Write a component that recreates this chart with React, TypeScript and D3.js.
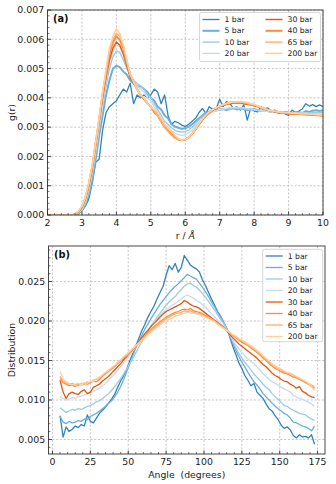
import React from 'react';
import * as d3 from 'd3';

// ---------- data ----------
const labels = ['1 bar', '5 bar', '10 bar', '20 bar', '30 bar', '40 bar', '65 bar', '200 bar'];
const colors = ['#3182bd', '#6baed6', '#9ecae1', '#c6dbef', '#e6550d', '#fd8d3c', '#fdae6b', '#fdd0a2'];
const widthsA = [1.3, 2.0, 1.4, 1.4, 1.4, 2.0, 1.4, 1.6];
const widthsB = [1.3, 1.3, 1.3, 1.3, 1.3, 1.3, 1.3, 1.3];

// r grid: 2.0 .. 10.0 step 0.1
const rGrid = d3.range(0, 81).map((i) => 2 + i * 0.1);
// angle grid: 5 .. 173 step 2
const angleGrid = d3.range(0, 85).map((i) => 5 + 2 * i);

const g1 = [0, 0, 0, 0, 0, 0, 0, 0, 0, 0.00005, 0.00015, 0.0003, 0.00055, 0.0011, 0.0018, 0.0019, 0.0029, 0.0035, 0.0037, 0.0038,
  0.0039, 0.0041, 0.0043, 0.0042, 0.0045, 0.0038, 0.0041, 0.0040, 0.0041, 0.0040,
  0.0041, 0.0043, 0.0042, 0.0038, 0.0041, 0.0034, 0.0031, 0.0032, 0.00315, 0.00307,
  0.00302, 0.0031, 0.0032, 0.0033, 0.0035, 0.00364, 0.00347, 0.0037, 0.0036, 0.00364,
  0.00395, 0.0037, 0.00387, 0.0038, 0.00364, 0.0037, 0.00358, 0.00376, 0.00324, 0.00364,
  0.00355, 0.00352, 0.0037, 0.00362, 0.00366, 0.00353, 0.00358, 0.00347, 0.00352, 0.00345,
  0.0034, 0.00358, 0.0035, 0.00355, 0.00362, 0.0038, 0.00372, 0.00377, 0.0037, 0.00376,
  0.0037];
const g5 = [0, 0, 0, 0, 0, 0, 0, 0, 0, 0.00005, 0.00015, 0.00035, 0.0007, 0.0012, 0.0019, 0.0027, 0.0034, 0.0041, 0.0046, 0.0050,
  0.0051, 0.00505, 0.0049, 0.0048, 0.0046, 0.0045, 0.0044, 0.0044, 0.0043, 0.0042,
  0.0040, 0.0039, 0.0037, 0.0036, 0.0034, 0.0033, 0.0031, 0.00302, 0.00298, 0.00294,
  0.00296, 0.00302, 0.0031, 0.0032, 0.0033, 0.0034, 0.0035, 0.00352, 0.00356, 0.00358,
  0.0036, 0.00362, 0.00358, 0.00362, 0.00365, 0.0036, 0.00364, 0.00362, 0.00358, 0.0036,
  0.00362, 0.00358, 0.00356, 0.0036, 0.00355, 0.00352, 0.00356, 0.00352, 0.00348, 0.00352,
  0.0035, 0.00346, 0.0035, 0.00352, 0.00348, 0.00355, 0.00352, 0.00356, 0.00358, 0.00355,
  0.00358];
const g10 = [0, 0, 0, 0, 0, 0, 0, 0, 0, 0.00007, 0.00018, 0.0004, 0.0008, 0.0014, 0.0021, 0.0029, 0.0037, 0.0044, 0.0050, 0.0054,
  0.0056, 0.00555, 0.0053, 0.0050, 0.0048, 0.0046, 0.0045, 0.0044, 0.0043, 0.0041,
  0.0040, 0.0038, 0.0036, 0.0034, 0.0032, 0.0031, 0.00298, 0.0029, 0.00285, 0.00283,
  0.00285, 0.0029, 0.003, 0.00312, 0.00325, 0.00335, 0.00342, 0.00348, 0.00352, 0.00356,
  0.00358, 0.0036, 0.00362, 0.00363, 0.00362, 0.00364, 0.00362, 0.00363, 0.0036, 0.00361,
  0.00358, 0.00357, 0.00356, 0.00355, 0.00354, 0.00352, 0.00353, 0.0035, 0.00351, 0.0035,
  0.00349, 0.0035, 0.00349, 0.00348, 0.0035, 0.00349, 0.00348, 0.0035, 0.00349, 0.0035,
  0.0035];
const g20 = [0, 0, 0, 0, 0, 0, 0, 0, 0, 0.00008, 0.0002, 0.00045, 0.0009, 0.0015, 0.0022, 0.0030, 0.0038, 0.0046, 0.0052, 0.0056,
  0.0058, 0.00575, 0.0055, 0.0051, 0.0048, 0.0046, 0.0044, 0.0043, 0.0042, 0.0040,
  0.0039, 0.0037, 0.0035, 0.0033, 0.0031, 0.003, 0.00288, 0.0028, 0.00274, 0.00272,
  0.00274, 0.0028, 0.0029, 0.00303, 0.00316, 0.00328, 0.00338, 0.00346, 0.00352, 0.00356,
  0.0036, 0.00363, 0.00365, 0.00367, 0.00367, 0.00368, 0.00367, 0.00366, 0.00364, 0.00362,
  0.0036, 0.00358, 0.00357, 0.00355, 0.00354, 0.00352, 0.00351, 0.0035, 0.00349, 0.00348,
  0.00348, 0.00347, 0.00347, 0.00346, 0.00346, 0.00346, 0.00345, 0.00345, 0.00346, 0.00345,
  0.00345];
const g30 = [0, 0, 0, 0, 0, 0, 0, 0, 0.00002, 0.0001, 0.00025, 0.00055, 0.001, 0.0016, 0.0024, 0.0032, 0.0040, 0.0047, 0.0053, 0.0057,
  0.0059, 0.0058, 0.0055, 0.0051, 0.0047, 0.0045, 0.0043, 0.0041, 0.00395, 0.0038,
  0.0037, 0.0035, 0.0034, 0.0032, 0.0030, 0.00288, 0.00276, 0.00266, 0.00258, 0.00255,
  0.00257, 0.00264, 0.00276, 0.00292, 0.00308, 0.00324, 0.00338, 0.00349, 0.00358, 0.00364,
  0.00369, 0.00374, 0.00378, 0.0038, 0.00382, 0.00383, 0.00382, 0.0038, 0.00378, 0.00376,
  0.00373, 0.0037, 0.00366, 0.00362, 0.00358, 0.00355, 0.00352, 0.0035, 0.00348, 0.00347,
  0.00346, 0.00345, 0.00345, 0.00344, 0.00344, 0.00343, 0.00342, 0.00341, 0.00341, 0.0034,
  0.00339];
const g40 = [0, 0, 0, 0, 0, 0, 0, 0, 0.00003, 0.00011, 0.00028, 0.00058, 0.00105, 0.00165, 0.00245, 0.00325, 0.0041, 0.0048, 0.0055, 0.0059,
  0.0061, 0.00598, 0.0057, 0.0052, 0.0048, 0.00455, 0.0043, 0.0041, 0.00398, 0.00382,
  0.0037, 0.00355, 0.0034, 0.0032, 0.00302, 0.00288, 0.00275, 0.00265, 0.00258, 0.00255,
  0.00258, 0.00265, 0.00277, 0.00293, 0.0031, 0.00326, 0.00341, 0.00352, 0.0036, 0.00366,
  0.00371, 0.00376, 0.0038, 0.00383, 0.00385, 0.00386, 0.00385, 0.00383, 0.00381, 0.00378,
  0.00375, 0.00371, 0.00367, 0.00363, 0.00359, 0.00356, 0.00353, 0.00351, 0.00349, 0.00348,
  0.00347, 0.00346, 0.00345, 0.00345, 0.00344, 0.00343, 0.00343, 0.00342, 0.00341, 0.00341,
  0.0034];
const g65 = [0, 0, 0, 0, 0, 0, 0, 0, 0.00003, 0.00012, 0.0003, 0.0006, 0.0011, 0.0017, 0.0025, 0.0033, 0.0042, 0.0049, 0.0056, 0.0060,
  0.0062, 0.0061, 0.0058, 0.0053, 0.0048, 0.00455, 0.0043, 0.0041, 0.00398, 0.0038,
  0.00368, 0.00355, 0.0034, 0.0032, 0.003, 0.00286, 0.00273, 0.00263, 0.00257, 0.00255,
  0.00258, 0.00265, 0.00277, 0.00294, 0.00311, 0.00327, 0.00341, 0.00352, 0.0036, 0.00367,
  0.00372, 0.00377, 0.00381, 0.00384, 0.00386, 0.00387, 0.00386, 0.00384, 0.00381, 0.00378,
  0.00376, 0.00372, 0.00367, 0.00363, 0.00359, 0.00356, 0.00354, 0.00352, 0.0035, 0.00349,
  0.00348, 0.00347, 0.00346, 0.00346, 0.00345, 0.00344, 0.00343, 0.00343, 0.00342, 0.00341,
  0.0034];
const g200 = [0, 0, 0, 0, 0, 0, 0, 0, 0.00004, 0.00014, 0.0003, 0.0006, 0.0011, 0.0017, 0.0025, 0.0033, 0.0042, 0.0050, 0.0057, 0.0061,
  0.00635, 0.0062, 0.0058, 0.0053, 0.0048, 0.00455, 0.0043, 0.0041, 0.004, 0.0038,
  0.0037, 0.0036, 0.0035, 0.0033, 0.0031, 0.003, 0.00285, 0.00272, 0.00262, 0.00256,
  0.00258, 0.00265, 0.00278, 0.00295, 0.00312, 0.00328, 0.00342, 0.00352, 0.0036, 0.00367,
  0.00372, 0.00377, 0.00381, 0.00384, 0.00386, 0.00387, 0.00387, 0.00386, 0.00384, 0.00381,
  0.00377, 0.00373, 0.00368, 0.00363, 0.00359, 0.00356, 0.00354, 0.00352, 0.00351, 0.0035,
  0.00349, 0.00348, 0.00348, 0.00347, 0.00347, 0.00346, 0.00345, 0.00344, 0.00343, 0.00342,
  0.00341];

const d1 = [0.0080, 0.0053, 0.0066, 0.0060, 0.0063, 0.0067, 0.0065, 0.0069, 0.0067, 0.0081,
  0.0073, 0.0071, 0.0077, 0.0083, 0.0087, 0.0091, 0.0096, 0.0101, 0.0107, 0.0116,
  0.0124, 0.0131, 0.0139, 0.0149, 0.0159, 0.0168, 0.0178, 0.0188, 0.0196, 0.0205,
  0.0212, 0.0219, 0.0228, 0.0236, 0.0244, 0.0258, 0.0270, 0.0265, 0.0273, 0.0262,
  0.0268, 0.0283, 0.0277, 0.0271, 0.0268, 0.0266, 0.0262, 0.0252, 0.0245, 0.0236,
  0.0228, 0.0220, 0.0212, 0.0206, 0.0198, 0.0191, 0.0180, 0.0168, 0.0158, 0.0147,
  0.0140, 0.0131, 0.0125, 0.0118, 0.0121, 0.0110, 0.0106, 0.0102, 0.0095, 0.0089,
  0.0086, 0.0080, 0.0075, 0.0068, 0.0064, 0.0066, 0.0062, 0.0055, 0.0052, 0.0056,
  0.0053, 0.0054, 0.0052, 0.0056, 0.0044];
const d5 = [0.0079, 0.0072, 0.0070, 0.0073, 0.0071, 0.0072, 0.0074, 0.0073, 0.0076, 0.0075,
  0.0079, 0.0081, 0.0083, 0.0086, 0.0089, 0.0092, 0.0096, 0.0099, 0.0104, 0.0110,
  0.0117, 0.0126, 0.0136, 0.0146, 0.0156, 0.0166, 0.0174, 0.0182, 0.0190, 0.0196,
  0.0203, 0.0209, 0.0215, 0.0221, 0.0226, 0.0231, 0.0236, 0.0240, 0.0244, 0.0247,
  0.0251, 0.0255, 0.0259, 0.0257, 0.0255, 0.0253, 0.0248, 0.0243, 0.0237, 0.0231,
  0.0224, 0.0218, 0.0211, 0.0205, 0.0198, 0.0190, 0.0182, 0.0172, 0.0163, 0.0155,
  0.0148, 0.0142, 0.0135, 0.0129, 0.0123, 0.0119, 0.0114, 0.0108, 0.0104, 0.0100,
  0.0096, 0.0092, 0.0089, 0.0086, 0.0083, 0.0081, 0.0077, 0.0072, 0.0071, 0.0069,
  0.0067, 0.0066, 0.0064, 0.0061, 0.0067];
const d10 = [0.0090, 0.0087, 0.0084, 0.0086, 0.0088, 0.0087, 0.0089, 0.0088, 0.0090, 0.0092,
  0.0093, 0.0095, 0.0098, 0.0099, 0.0102, 0.0105, 0.0108, 0.0112, 0.0117, 0.0122,
  0.0127, 0.0133, 0.0139, 0.0146, 0.0153, 0.0160, 0.0167, 0.0174, 0.0180, 0.0187,
  0.0193, 0.0199, 0.0205, 0.0210, 0.0215, 0.0220, 0.0224, 0.0228, 0.0231, 0.0236,
  0.0240, 0.0244, 0.0247, 0.0248, 0.0245, 0.0243, 0.0239, 0.0235, 0.0230, 0.0225,
  0.0219, 0.0214, 0.0208, 0.0202, 0.0197, 0.0190, 0.0183, 0.0175, 0.0166, 0.0159,
  0.0153, 0.0148, 0.0143, 0.0138, 0.0133, 0.0129, 0.0125, 0.0120, 0.0116, 0.0113,
  0.0108, 0.0104, 0.0101, 0.0097, 0.0093, 0.0092, 0.0089, 0.0087, 0.0085, 0.0083,
  0.0082, 0.0081, 0.0078, 0.0076, 0.0074];
const d20 = [0.0104, 0.0102, 0.0100, 0.0101, 0.0103, 0.0102, 0.0104, 0.0105, 0.0106, 0.0108,
  0.0109, 0.0111, 0.0113, 0.0115, 0.0118, 0.0121, 0.0125, 0.0129, 0.0133, 0.0138,
  0.0142, 0.0147, 0.0152, 0.0157, 0.0162, 0.0168, 0.0173, 0.0178, 0.0184, 0.0189,
  0.0194, 0.0199, 0.0203, 0.0207, 0.0211, 0.0214, 0.0217, 0.0220, 0.0222, 0.0225,
  0.0228, 0.0231, 0.0233, 0.0231, 0.0229, 0.0226, 0.0224, 0.0221, 0.0218, 0.0213,
  0.0209, 0.0205, 0.0201, 0.0197, 0.0193, 0.0189, 0.0183, 0.0176, 0.0170, 0.0165,
  0.0160, 0.0156, 0.0152, 0.0149, 0.0146, 0.0142, 0.0138, 0.0133, 0.0130, 0.0126,
  0.0123, 0.0121, 0.0119, 0.0116, 0.0114, 0.0112, 0.0110, 0.0106, 0.0104, 0.0102,
  0.0101, 0.0099, 0.0097, 0.0095, 0.0092];
const d30 = [0.0125, 0.0110, 0.0102, 0.0108, 0.0110, 0.0108, 0.0107, 0.0111, 0.0113, 0.0108,
  0.0110, 0.0116, 0.0118, 0.0120, 0.0124, 0.0127, 0.0130, 0.0134, 0.0138, 0.0142,
  0.0146, 0.0151, 0.0155, 0.0160, 0.0164, 0.0169, 0.0174, 0.0179, 0.0184, 0.0188,
  0.0193, 0.0197, 0.0201, 0.0205, 0.0209, 0.0212, 0.0214, 0.0216, 0.0218, 0.0220,
  0.0222, 0.0226, 0.0224, 0.0221, 0.0219, 0.0218, 0.0216, 0.0213, 0.0210, 0.0207,
  0.0204, 0.0201, 0.0198, 0.0195, 0.0192, 0.0188, 0.0183, 0.0179, 0.0175, 0.0171,
  0.0168, 0.0165, 0.0162, 0.0159, 0.0156, 0.0153, 0.0149, 0.0145, 0.0142, 0.0138,
  0.0134, 0.0131, 0.0129, 0.0126, 0.0124, 0.0123, 0.0120, 0.0118, 0.0115, 0.0117,
  0.0111, 0.0109, 0.0106, 0.0104, 0.0103];
const d40 = [0.0127, 0.0122, 0.0120, 0.0118, 0.0119, 0.0117, 0.0120, 0.0119, 0.0121, 0.0120,
  0.0122, 0.0124, 0.0123, 0.0126, 0.0130, 0.0133, 0.0136, 0.0139, 0.0142, 0.0146,
  0.0149, 0.0153, 0.0156, 0.0160, 0.0164, 0.0168, 0.0173, 0.0177, 0.0181, 0.0185,
  0.0189, 0.0193, 0.0196, 0.0199, 0.0202, 0.0205, 0.0207, 0.0209, 0.0211, 0.0212,
  0.0214, 0.0215, 0.0214, 0.0216, 0.0213, 0.0212, 0.0211, 0.0209, 0.0207, 0.0205,
  0.0203, 0.0200, 0.0197, 0.0195, 0.0192, 0.0189, 0.0185, 0.0182, 0.0179, 0.0176,
  0.0173, 0.0171, 0.0169, 0.0166, 0.0163, 0.0160, 0.0157, 0.0153, 0.0150, 0.0146,
  0.0143, 0.0140, 0.0138, 0.0136, 0.0134, 0.0133, 0.0131, 0.0129, 0.0128, 0.0126,
  0.0124, 0.0122, 0.0120, 0.0117, 0.0115];
const d65 = [0.0130, 0.0124, 0.0122, 0.0120, 0.0121, 0.0119, 0.0118, 0.0121, 0.0120, 0.0123,
  0.0121, 0.0125, 0.0126, 0.0128, 0.0131, 0.0134, 0.0137, 0.0140, 0.0143, 0.0147,
  0.0150, 0.0154, 0.0157, 0.0161, 0.0165, 0.0169, 0.0172, 0.0176, 0.0180, 0.0184,
  0.0188, 0.0191, 0.0194, 0.0197, 0.0200, 0.0203, 0.0205, 0.0207, 0.0209, 0.0210,
  0.0211, 0.0213, 0.0212, 0.0213, 0.0211, 0.0210, 0.0209, 0.0208, 0.0206, 0.0204,
  0.0202, 0.0200, 0.0197, 0.0194, 0.0191, 0.0188, 0.0185, 0.0182, 0.0180, 0.0177,
  0.0175, 0.0172, 0.0170, 0.0167, 0.0165, 0.0161, 0.0158, 0.0155, 0.0151, 0.0148,
  0.0145, 0.0142, 0.0140, 0.0138, 0.0136, 0.0134, 0.0133, 0.0131, 0.0129, 0.0127,
  0.0125, 0.0123, 0.0121, 0.0119, 0.0117];
const d200 = [0.0136, 0.0127, 0.0123, 0.0121, 0.0119, 0.0120, 0.0121, 0.0119, 0.0122, 0.0121,
  0.0124, 0.0123, 0.0127, 0.0129, 0.0132, 0.0135, 0.0138, 0.0141, 0.0144, 0.0148,
  0.0151, 0.0155, 0.0158, 0.0162, 0.0165, 0.0169, 0.0172, 0.0176, 0.0179, 0.0183,
  0.0186, 0.0189, 0.0192, 0.0195, 0.0198, 0.0200, 0.0202, 0.0204, 0.0206, 0.0207,
  0.0209, 0.0210, 0.0211, 0.0210, 0.0210, 0.0209, 0.0208, 0.0206, 0.0205, 0.0203,
  0.0201, 0.0199, 0.0196, 0.0193, 0.0191, 0.0188, 0.0186, 0.0183, 0.0181, 0.0178,
  0.0176, 0.0174, 0.0171, 0.0169, 0.0166, 0.0163, 0.0160, 0.0156, 0.0153, 0.0149,
  0.0146, 0.0143, 0.0141, 0.0139, 0.0137, 0.0135, 0.0134, 0.0132, 0.0130, 0.0128,
  0.0126, 0.0124, 0.0121, 0.0117, 0.0112];

const seriesA = [g1, g5, g10, g20, g30, g40, g65, g200];
const seriesB = [d1, d5, d10, d20, d30, d40, d65, d200];

const xTicksA = [2, 3, 4, 5, 6, 7, 8, 9, 10];
const yTicksA = [0, 0.001, 0.002, 0.003, 0.004, 0.005, 0.006, 0.007];
const xTicksB = [0, 25, 50, 75, 100, 125, 150, 175];
const yTicksB = [0.005, 0.01, 0.015, 0.02, 0.025];

const FONT = 'DejaVu Sans, Liberation Sans, sans-serif';

type PanelProps = {
  id: string;
  x0: number; x1: number; y0: number; y1: number;
  xDomain: [number, number]; yDomain: [number, number];
  xGrid: number[]; series: number[][]; widths: number[];
  xTicks: number[]; yTicks: number[]; xMinor: number[]; yMinor: number[];
  xFmt: (v: number) => string; yFmt: (v: number) => string;
  xLabel: React.ReactNode; yLabel: string; tag: string;
  legend: { x: number; y: number; w: number; h: number; cols: number; rowH: number; colW: number; firstRow: number };
};

function Panel(p: PanelProps) {
  const x = d3.scaleLinear().domain(p.xDomain).range([p.x0, p.x1]);
  const y = d3.scaleLinear().domain(p.yDomain).range([p.y1, p.y0]);
  const line = d3.line<number>().x((_, i) => x(p.xGrid[i])).y((v) => y(v));
  const tickCol = '#222';
  const rowsPerCol = Math.ceil(labels.length / p.legend.cols);
  return (
    <g>
      <defs>
        <clipPath id={p.id}>
          <rect x={p.x0} y={p.y0} width={p.x1 - p.x0} height={p.y1 - p.y0} />
        </clipPath>
      </defs>
      {p.xTicks.map((t) => (
        <line key={'gx' + t} x1={x(t)} x2={x(t)} y1={p.y0} y2={p.y1} stroke="#b0b0b0" strokeWidth={0.7} strokeDasharray="2.2,1.6" />
      ))}
      {p.yTicks.map((t) => (
        <line key={'gy' + t} x1={p.x0} x2={p.x1} y1={y(t)} y2={y(t)} stroke="#b0b0b0" strokeWidth={0.7} strokeDasharray="2.2,1.6" />
      ))}
      <g clipPath={`url(#${p.id})`}>
        {p.series.map((s, k) => (
          <path key={k} d={line(s) || ''} fill="none" stroke={colors[k]} strokeWidth={p.widths[k]} strokeLinejoin="round" />
        ))}
      </g>
      <rect x={p.x0} y={p.y0} width={p.x1 - p.x0} height={p.y1 - p.y0} fill="none" stroke="#333" strokeWidth={0.9} />
      {p.xTicks.map((t) => (
        <g key={'tx' + t}>
          <line x1={x(t)} x2={x(t)} y1={p.y1} y2={p.y1 - 3.5} stroke={tickCol} strokeWidth={0.8} />
          <text x={x(t)} y={p.y1 + 10.8} textAnchor="middle" fontSize={9.4} fontFamily={FONT} fill={tickCol}>{p.xFmt(t)}</text>
        </g>
      ))}
      {p.xMinor.map((t) => (
        <line key={'mx' + t} x1={x(t)} x2={x(t)} y1={p.y1} y2={p.y1 - 2} stroke={tickCol} strokeWidth={0.6} />
      ))}
      {p.yTicks.map((t) => (
        <g key={'ty' + t}>
          <line x1={p.x0} x2={p.x0 + 3.5} y1={y(t)} y2={y(t)} stroke={tickCol} strokeWidth={0.8} />
          <text x={p.x0 - 3.3} y={y(t)} dy="0.35em" textAnchor="end" fontSize={9.4} fontFamily={FONT} fill={tickCol}>{p.yFmt(t)}</text>
        </g>
      ))}
      {p.yMinor.map((t) => (
        <line key={'my' + t} x1={p.x0} x2={p.x0 + 2} y1={y(t)} y2={y(t)} stroke={tickCol} strokeWidth={0.6} />
      ))}
      <text x={(p.x0 + p.x1) / 2} y={p.y1 + 24} textAnchor="middle" fontSize={9.3} fontFamily={FONT} fill={tickCol} style={{ whiteSpace: 'pre' }}>{p.xLabel}</text>
      <text transform={`translate(14.5,${(p.y0 + p.y1) / 2}) rotate(-90)`} textAnchor="middle" fontSize={9.3} fontFamily={FONT} fill={tickCol}>{p.yLabel}</text>
      <text x={p.x0 + 5.5} y={p.y0 + 12} fontSize={9.8} fontWeight="bold" fontFamily={FONT} fill="#111">{p.tag}</text>
      <rect x={p.legend.x} y={p.legend.y} width={p.legend.w} height={p.legend.h} rx={2} fill="white" fillOpacity={0.85} stroke="#cccccc" strokeWidth={0.8} />
      {labels.map((lab, k) => {
        const col = Math.floor(k / rowsPerCol);
        const row = k % rowsPerCol;
        const lx = p.legend.x + 3 + col * p.legend.colW;
        const ly = p.legend.firstRow + row * p.legend.rowH;
        return (
          <g key={'lg' + k}>
            <line x1={lx} x2={lx + 17} y1={ly} y2={ly} stroke={colors[k]} strokeWidth={p.widths[k]} />
            <text x={lx + 22} y={ly} dy="0.35em" fontSize={7.7} fontFamily={FONT} fill="#222">{lab}</text>
          </g>
        );
      })}
    </g>
  );
}

export default function App() {
  const xMinorA = d3.range(0, 41).filter((i) => i % 5 !== 0).map((i) => 2 + i * 0.2);
  const yMinorA = d3.range(0, 36).filter((i) => i % 5 !== 0).map((i) => i * 0.0002);
  const xMinorB = d3.range(0, 36).filter((i) => i % 5 !== 0).map((i) => i * 5);
  const yMinorB = d3.range(4, 30).filter((i) => i % 5 !== 0).map((i) => i * 0.001);
  return (
    <svg width={336} height={484} style={{ position: 'absolute', left: 0, top: 0, background: 'white' }}>
      <rect x={0} y={0} width={336} height={484} fill="white" />
      <Panel
        id="clipA" x0={47.5} x1={323} y0={10} y1={215}
        xDomain={[2, 10]} yDomain={[0, 0.007]}
        xGrid={rGrid} series={seriesA} widths={widthsA}
        xTicks={xTicksA} yTicks={yTicksA} xMinor={xMinorA} yMinor={yMinorA}
        xFmt={(v) => String(v)} yFmt={d3.format('.3f')}
        xLabel={<><tspan>r / </tspan><tspan fontStyle="italic">Å</tspan></>} yLabel="g(r)" tag="(a)"
        legend={{ x: 199.5, y: 12.5, w: 121, h: 49, cols: 2, rowH: 11.3, colW: 63, firstRow: 19.5 }}
      />
      <Panel
        id="clipB" x0={48.5} x1={325} y0={246} y1={454}
        xDomain={[-2.64, 179.9]} yDomain={[0.00316, 0.0295]}
        xGrid={angleGrid} series={seriesB} widths={widthsB}
        xTicks={xTicksB} yTicks={yTicksB} xMinor={xMinorB} yMinor={yMinorB}
        xFmt={(v) => String(v)} yFmt={d3.format('.3f')}
        xLabel={'Angle  (degrees)'} yLabel="Distribution" tag="(b)"
        legend={{ x: 262.7, y: 249.3, w: 60, h: 92.4, cols: 1, rowH: 11.5, colW: 0, firstRow: 256 }}
      />
    </svg>
  );
}
